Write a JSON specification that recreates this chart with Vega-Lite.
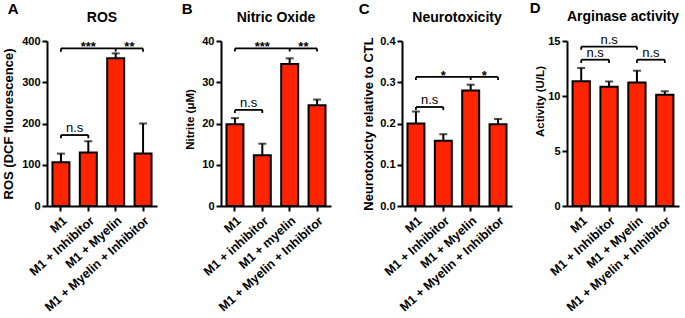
{
  "$schema": "https://vega.github.io/schema/vega-lite/v6.json",
  "padding": {"left": 2, "top": 0, "right": 0, "bottom": 0},
  "autosize": {"type": "pad"},
  "background": "white",
  "config": {
    "font": "Liberation Sans",
    "view": {"stroke": null},
    "axis": {"domainColor": "black", "domainWidth": 2, "tickColor": "black", "tickWidth": 2, "tickSize": 5, "labelColor": "black", "labelFont": "Liberation Sans", "labelFontWeight": "bold", "labelFontSize": 11, "titleColor": "black", "titleFont": "Liberation Sans", "titleFontWeight": "bold", "grid": false, "labelPadding": 2},
    "axisX": {"labelAngle": -42, "labelFontSize": 12.5, "labelPadding": 3},
    "title": {"color": "black", "font": "Liberation Sans", "fontWeight": "bold"}
  },
  "spacing": 24,
  "hconcat": [
    {
      "title": {"text": "A", "anchor": "start", "frame": "bounds", "fontSize": 15, "offset": -6, "dx": 5},
      "vconcat": [{
        "width": 110, "height": 165,
        "title": {"text": "ROS", "fontSize": 14, "anchor": "middle", "frame": "group", "offset": 10},
        "data": {"values": [
          {"group": "M1", "mean": 106, "upper": 127},
          {"group": "M1 + Inhibitor", "mean": 130, "upper": 157},
          {"group": "M1 + Myelin", "mean": 358, "upper": 370},
          {"group": "M1 + Myelin + Inhibitor", "mean": 127, "upper": 200}
        ]},
        "encoding": {
          "x": {"field": "group", "type": "nominal", "title": null, "scale": {"domain": ["M1", "M1 + Inhibitor", "M1 + Myelin", "M1 + Myelin + Inhibitor"], "paddingInner": 0.38, "paddingOuter": 0.2}},
          "y": {"field": "mean", "type": "quantitative", "scale": {"domain": [0, 400], "nice": false}, "axis": {"title": "ROS (DCF fluorescence)", "titleFontSize": 13, "titlePadding": 6, "values": [0, 100, 200, 300, 400]}}
        },
        "layer": [
          {"mark": {"type": "bar", "fill": "#FF2400", "stroke": "black", "strokeWidth": 2}},
          {"mark": {"type": "rule", "color": "black", "strokeWidth": 2}, "encoding": {"y": {"field": "mean", "type": "quantitative"}, "y2": {"field": "upper"}}},
          {"mark": {"type": "tick", "color": "black", "thickness": 2, "size": 8}, "encoding": {"y": {"field": "upper", "type": "quantitative"}}},
          {"data": {"values": [
            {"from": "M1", "to": "M1 + Myelin", "level": 382},
            {"from": "M1 + Myelin", "to": "M1 + Myelin + Inhibitor", "level": 382},
            {"from": "M1", "to": "M1 + Inhibitor", "level": 172}
          ]}, "mark": {"type": "rule", "color": "black", "strokeWidth": 1.8},
           "encoding": {"x": {"field": "from", "type": "nominal"}, "x2": {"field": "to"}, "y": {"field": "level", "type": "quantitative"}}},
          {"data": {"values": [
            {"at": "M1", "level": 382, "low": 374},
            {"at": "M1 + Myelin", "level": 382, "low": 374},
            {"at": "M1 + Myelin + Inhibitor", "level": 382, "low": 374},
            {"at": "M1", "level": 172, "low": 164},
            {"at": "M1 + Inhibitor", "level": 172, "low": 164}
          ]}, "mark": {"type": "rule", "color": "black", "strokeWidth": 1.8},
           "encoding": {"x": {"field": "at", "type": "nominal"}, "y": {"field": "level", "type": "quantitative"}, "y2": {"field": "low"}}},
          {"data": {"values": [{"at": "M1 + Inhibitor", "level": 382, "label": "***"}]},
           "mark": {"type": "text", "fontSize": 13, "fontWeight": "bold", "baseline": "alphabetic", "dy": 3, "color": "black"},
           "encoding": {"x": {"field": "at", "type": "nominal"}, "y": {"field": "level", "type": "quantitative"}, "text": {"field": "label"}}},
          {"data": {"values": [{"at": "M1 + Myelin", "level": 382, "label": "**"}]},
           "mark": {"type": "text", "fontSize": 13, "fontWeight": "bold", "baseline": "alphabetic", "dy": 3, "dx": 13.7, "color": "black"},
           "encoding": {"x": {"field": "at", "type": "nominal"}, "y": {"field": "level", "type": "quantitative"}, "text": {"field": "label"}}},
          {"data": {"values": [{"at": "M1", "level": 172, "label": "n.s"}]},
           "mark": {"type": "text", "fontSize": 13, "baseline": "alphabetic", "dy": -3, "dx": 13.7, "color": "black"},
           "encoding": {"x": {"field": "at", "type": "nominal"}, "y": {"field": "level", "type": "quantitative"}, "text": {"field": "label"}}}
        ]
      }]
    },
    {
      "spacing": 27,
      "hconcat": [
        {
          "title": {"text": "B", "anchor": "start", "frame": "bounds", "fontSize": 15, "offset": -6, "dx": -3},
          "vconcat": [{
            "width": 110, "height": 165,
            "title": {"text": "Nitric Oxide", "fontSize": 14, "anchor": "middle", "frame": "group", "offset": 10},
            "data": {"values": [
              {"group": "M1", "mean": 19.8, "upper": 21.3},
              {"group": "M1 + inhibitor", "mean": 12.3, "upper": 15.1},
              {"group": "M1 + myelin", "mean": 34.4, "upper": 35.8},
              {"group": "M1 + Myelin + Inhibitor", "mean": 24.4, "upper": 25.8}
            ]},
            "encoding": {
              "x": {"field": "group", "type": "nominal", "title": null, "scale": {"domain": ["M1", "M1 + inhibitor", "M1 + myelin", "M1 + Myelin + Inhibitor"], "paddingInner": 0.38, "paddingOuter": 0.2}},
              "y": {"field": "mean", "type": "quantitative", "scale": {"domain": [0, 40], "nice": false}, "axis": {"title": "Nitrite (μM)", "titleFontSize": 11.5, "titlePadding": 6, "titleY": 78, "values": [0, 10, 20, 30, 40]}}
            },
            "layer": [
              {"mark": {"type": "bar", "fill": "#FF2400", "stroke": "black", "strokeWidth": 2}},
              {"mark": {"type": "rule", "color": "black", "strokeWidth": 2}, "encoding": {"y": {"field": "mean", "type": "quantitative"}, "y2": {"field": "upper"}}},
              {"mark": {"type": "tick", "color": "black", "thickness": 2, "size": 8}, "encoding": {"y": {"field": "upper", "type": "quantitative"}}},
              {"data": {"values": [
                {"from": "M1", "to": "M1 + myelin", "level": 38.2},
                {"from": "M1 + myelin", "to": "M1 + Myelin + Inhibitor", "level": 38.2},
                {"from": "M1", "to": "M1 + inhibitor", "level": 23.3}
              ]}, "mark": {"type": "rule", "color": "black", "strokeWidth": 1.8},
               "encoding": {"x": {"field": "from", "type": "nominal"}, "x2": {"field": "to"}, "y": {"field": "level", "type": "quantitative"}}},
              {"data": {"values": [
                {"at": "M1", "level": 38.2, "low": 37.45},
                {"at": "M1 + myelin", "level": 38.2, "low": 37.45},
                {"at": "M1 + Myelin + Inhibitor", "level": 38.2, "low": 37.45},
                {"at": "M1", "level": 23.3, "low": 22.55},
                {"at": "M1 + inhibitor", "level": 23.3, "low": 22.55}
              ]}, "mark": {"type": "rule", "color": "black", "strokeWidth": 1.8},
               "encoding": {"x": {"field": "at", "type": "nominal"}, "y": {"field": "level", "type": "quantitative"}, "y2": {"field": "low"}}},
              {"data": {"values": [{"at": "M1 + inhibitor", "level": 38.2, "label": "***"}]},
               "mark": {"type": "text", "fontSize": 13, "fontWeight": "bold", "baseline": "alphabetic", "dy": 3, "color": "black"},
               "encoding": {"x": {"field": "at", "type": "nominal"}, "y": {"field": "level", "type": "quantitative"}, "text": {"field": "label"}}},
              {"data": {"values": [{"at": "M1 + myelin", "level": 38.2, "label": "**"}]},
               "mark": {"type": "text", "fontSize": 13, "fontWeight": "bold", "baseline": "alphabetic", "dy": 3, "dx": 13.7, "color": "black"},
               "encoding": {"x": {"field": "at", "type": "nominal"}, "y": {"field": "level", "type": "quantitative"}, "text": {"field": "label"}}},
              {"data": {"values": [{"at": "M1", "level": 23.3, "label": "n.s"}]},
               "mark": {"type": "text", "fontSize": 13, "baseline": "alphabetic", "dy": -3, "dx": 13.7, "color": "black"},
               "encoding": {"x": {"field": "at", "type": "nominal"}, "y": {"field": "level", "type": "quantitative"}, "text": {"field": "label"}}}
            ]
          }]
        },
        {
          "spacing": 17,
          "hconcat": [
            {
              "title": {"text": "C", "anchor": "start", "frame": "bounds", "fontSize": 15, "offset": -6, "dx": -4},
              "vconcat": [{
                "width": 110, "height": 165,
                "title": {"text": "Neurotoxicity", "fontSize": 14, "anchor": "middle", "frame": "group", "offset": 10},
                "data": {"values": [
                  {"group": "M1", "mean": 0.2, "upper": 0.229},
                  {"group": "M1 + Inhibitor", "mean": 0.158, "upper": 0.174},
                  {"group": "M1 + Myelin", "mean": 0.28, "upper": 0.294},
                  {"group": "M1 + Myelin + Inhibitor", "mean": 0.198, "upper": 0.211}
                ]},
                "encoding": {
                  "x": {"field": "group", "type": "nominal", "title": null, "scale": {"domain": ["M1", "M1 + Inhibitor", "M1 + Myelin", "M1 + Myelin + Inhibitor"], "paddingInner": 0.38, "paddingOuter": 0.2}},
                  "y": {"field": "mean", "type": "quantitative", "scale": {"domain": [0, 0.4], "nice": false}, "axis": {"title": "Neurotoxicty relative to CTL", "titleFontSize": 13, "titlePadding": 4, "values": [0, 0.1, 0.2, 0.3, 0.4], "format": ".1f"}}
                },
                "layer": [
                  {"mark": {"type": "bar", "fill": "#FF2400", "stroke": "black", "strokeWidth": 2}},
                  {"mark": {"type": "rule", "color": "black", "strokeWidth": 2}, "encoding": {"y": {"field": "mean", "type": "quantitative"}, "y2": {"field": "upper"}}},
                  {"mark": {"type": "tick", "color": "black", "thickness": 2, "size": 8}, "encoding": {"y": {"field": "upper", "type": "quantitative"}}},
                  {"data": {"values": [
                    {"from": "M1", "to": "M1 + Myelin", "level": 0.313},
                    {"from": "M1 + Myelin", "to": "M1 + Myelin + Inhibitor", "level": 0.313},
                    {"from": "M1", "to": "M1 + Inhibitor", "level": 0.24}
                  ]}, "mark": {"type": "rule", "color": "black", "strokeWidth": 1.8},
                   "encoding": {"x": {"field": "from", "type": "nominal"}, "x2": {"field": "to"}, "y": {"field": "level", "type": "quantitative"}}},
                  {"data": {"values": [
                    {"at": "M1", "level": 0.313, "low": 0.3055},
                    {"at": "M1 + Myelin", "level": 0.313, "low": 0.3055},
                    {"at": "M1 + Myelin + Inhibitor", "level": 0.313, "low": 0.3055},
                    {"at": "M1", "level": 0.24, "low": 0.2325},
                    {"at": "M1 + Inhibitor", "level": 0.24, "low": 0.2325}
                  ]}, "mark": {"type": "rule", "color": "black", "strokeWidth": 1.8},
                   "encoding": {"x": {"field": "at", "type": "nominal"}, "y": {"field": "level", "type": "quantitative"}, "y2": {"field": "low"}}},
                  {"data": {"values": [{"at": "M1 + Inhibitor", "level": 0.313, "label": "*"}]},
                   "mark": {"type": "text", "fontSize": 13, "fontWeight": "bold", "baseline": "alphabetic", "dy": 3, "color": "black"},
                   "encoding": {"x": {"field": "at", "type": "nominal"}, "y": {"field": "level", "type": "quantitative"}, "text": {"field": "label"}}},
                  {"data": {"values": [{"at": "M1 + Myelin", "level": 0.313, "label": "*"}]},
                   "mark": {"type": "text", "fontSize": 13, "fontWeight": "bold", "baseline": "alphabetic", "dy": 3, "dx": 13.7, "color": "black"},
                   "encoding": {"x": {"field": "at", "type": "nominal"}, "y": {"field": "level", "type": "quantitative"}, "text": {"field": "label"}}},
                  {"data": {"values": [{"at": "M1", "level": 0.24, "label": "n.s"}]},
                   "mark": {"type": "text", "fontSize": 13, "baseline": "alphabetic", "dy": -3, "dx": 13.7, "color": "black"},
                   "encoding": {"x": {"field": "at", "type": "nominal"}, "y": {"field": "level", "type": "quantitative"}, "text": {"field": "label"}}}
                ]
              }]
            },
            {
              "title": {"text": "D", "anchor": "start", "frame": "bounds", "fontSize": 15, "offset": -6, "dx": -5},
              "vconcat": [{
                "width": 112, "height": 165,
                "title": {"text": "Arginase activity", "fontSize": 14, "anchor": "middle", "frame": "group", "offset": 10},
                "data": {"values": [
                  {"group": "M1", "mean": 11.35, "upper": 12.55},
                  {"group": "M1 + Inhibitor", "mean": 10.83, "upper": 11.32},
                  {"group": "M1 + Myelin", "mean": 11.23, "upper": 12.3},
                  {"group": "M1 + Myelin + Inhibitor", "mean": 10.12, "upper": 10.43}
                ]},
                "encoding": {
                  "x": {"field": "group", "type": "nominal", "title": null, "scale": {"domain": ["M1", "M1 + Inhibitor", "M1 + Myelin", "M1 + Myelin + Inhibitor"], "paddingInner": 0.38, "paddingOuter": 0.2}},
                  "y": {"field": "mean", "type": "quantitative", "scale": {"domain": [0, 15], "nice": false}, "axis": {"title": "Activity (U/L)", "titleFontSize": 11.5, "titlePadding": 2, "titleY": 60, "values": [0, 5, 10, 15]}}
                },
                "layer": [
                  {"mark": {"type": "bar", "fill": "#FF2400", "stroke": "black", "strokeWidth": 2}},
                  {"mark": {"type": "rule", "color": "black", "strokeWidth": 2}, "encoding": {"y": {"field": "mean", "type": "quantitative"}, "y2": {"field": "upper"}}},
                  {"mark": {"type": "tick", "color": "black", "thickness": 2, "size": 8}, "encoding": {"y": {"field": "upper", "type": "quantitative"}}},
                  {"data": {"values": [
                    {"from": "M1", "to": "M1 + Myelin", "level": 14.48},
                    {"from": "M1", "to": "M1 + Inhibitor", "level": 13.3},
                    {"from": "M1 + Myelin", "to": "M1 + Myelin + Inhibitor", "level": 13.3}
                  ]}, "mark": {"type": "rule", "color": "black", "strokeWidth": 1.8},
                   "encoding": {"x": {"field": "from", "type": "nominal"}, "x2": {"field": "to"}, "y": {"field": "level", "type": "quantitative"}}},
                  {"data": {"values": [
                    {"at": "M1", "level": 14.48, "low": 14.2},
                    {"at": "M1 + Myelin", "level": 14.48, "low": 14.2},
                    {"at": "M1", "level": 13.3, "low": 13.0},
                    {"at": "M1 + Inhibitor", "level": 13.3, "low": 13.0},
                    {"at": "M1 + Myelin", "level": 13.3, "low": 13.0},
                    {"at": "M1 + Myelin + Inhibitor", "level": 13.3, "low": 13.0}
                  ]}, "mark": {"type": "rule", "color": "black", "strokeWidth": 1.8},
                   "encoding": {"x": {"field": "at", "type": "nominal"}, "y": {"field": "level", "type": "quantitative"}, "y2": {"field": "low"}}},
                  {"data": {"values": [{"at": "M1 + Inhibitor", "level": 14.48, "label": "n.s"}]},
                   "mark": {"type": "text", "fontSize": 13, "baseline": "alphabetic", "dy": -3, "color": "black"},
                   "encoding": {"x": {"field": "at", "type": "nominal"}, "y": {"field": "level", "type": "quantitative"}, "text": {"field": "label"}}},
                  {"data": {"values": [{"at": "M1", "level": 13.3, "label": "n.s"}, {"at": "M1 + Myelin", "level": 13.3, "label": "n.s"}]},
                   "mark": {"type": "text", "fontSize": 13, "baseline": "alphabetic", "dy": -3, "dx": 13.9, "color": "black"},
                   "encoding": {"x": {"field": "at", "type": "nominal"}, "y": {"field": "level", "type": "quantitative"}, "text": {"field": "label"}}}
                ]
              }]
            }
          ]
        }
      ]
    }
  ]
}
